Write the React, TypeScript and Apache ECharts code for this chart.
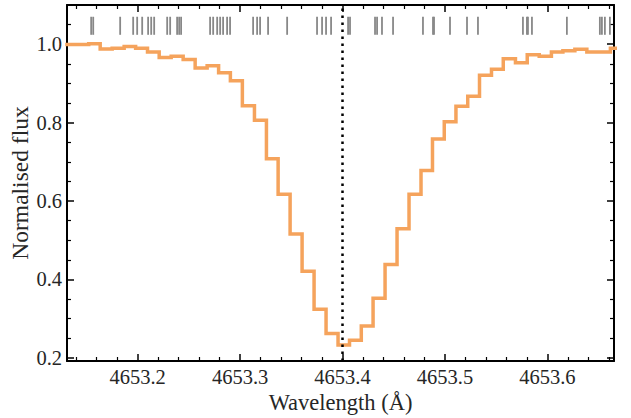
import React, { useEffect, useRef } from "react";
import * as echarts from "echarts";

// Bin left edges (Å); the last entry is the right edge of the last bin
const binEdges = [
  4653.1293, 4653.1407, 4653.1522, 4653.1634, 4653.1751, 4653.1868, 4653.198, 4653.2096,
  4653.221, 4653.2327, 4653.2444, 4653.2561, 4653.2678, 4653.279, 4653.2905, 4653.3022,
  4653.314, 4653.3257, 4653.3371, 4653.3488, 4653.3605, 4653.3722, 4653.3839, 4653.3956,
  4653.4068, 4653.4183, 4653.4298, 4653.4415, 4653.4532, 4653.4649, 4653.4766, 4653.4878,
  4653.4993, 4653.5107, 4653.5222, 4653.5337, 4653.5454, 4653.5569, 4653.5688, 4653.5803,
  4653.592, 4653.6039, 4653.6151, 4653.6268, 4653.6385, 4653.65, 4653.6615, 4653.6727,
];

// Normalised flux of each bin
const binFlux = [
  0.999, 0.999, 1.001, 0.988, 0.99, 0.994, 0.99, 0.98,
  0.966, 0.969, 0.961, 0.939, 0.945, 0.927, 0.907, 0.843,
  0.806, 0.708, 0.617, 0.516, 0.421, 0.324, 0.262, 0.233,
  0.245, 0.281, 0.352, 0.438, 0.529, 0.617, 0.678, 0.758,
  0.802, 0.842, 0.867, 0.921, 0.936, 0.963, 0.953, 0.973,
  0.969, 0.98, 0.983, 0.987, 0.98, 0.98, 0.99,
];

// Line-list wavelengths shown as gray marks at the top
const lineMarks = [
  4653.1546, 4653.1566, 4653.1829, 4653.1956, 4653.1995, 4653.2044, 4653.2102, 4653.2132,
  4653.2161, 4653.2288, 4653.2317, 4653.2385, 4653.2405, 4653.2424, 4653.2707, 4653.2737,
  4653.2776, 4653.2805, 4653.2834, 4653.2873, 4653.2902, 4653.3127, 4653.3166, 4653.3195,
  4653.3273, 4653.3459, 4653.3751, 4653.38, 4653.3839, 4653.3888, 4653.4054, 4653.4073,
  4653.4317, 4653.4337, 4653.4385, 4653.4493, 4653.4785, 4653.4883, 4653.4893, 4653.5049,
  4653.5215, 4653.5322, 4653.5761, 4653.58, 4653.581, 4653.5849, 4653.619, 4653.6512,
  4653.6532, 4653.6561, 4653.661,
];
const markBottom = 1.024;
const markTop = 1.07;

const restWavelength = 4653.4;
const xMin = 4653.131;
const xMax = 4653.665;
const yMin = 0.192;
const yMax = 1.1;

const FONT = "Liberation Serif";
const TEXT = "#262626";

export default function App() {
  const ref = useRef<HTMLDivElement>(null);
  useEffect(() => {
    if (!ref.current) return;
    const chart = echarts.init(ref.current, null, { renderer: "svg" });

    const stepData = binEdges.map((x, i) => [x, binFlux[Math.min(i, binFlux.length - 1)]]);
    const markData = lineMarks.map((x) => [x, markBottom]);

    const tickCommon = {
      axisLine: { show: true, onZero: false, lineStyle: { color: "#000", width: 2 } },
      axisTick: { show: true, inside: true, length: 7, lineStyle: { color: "#000", width: 1.5 } },
      minorTick: { show: true, length: 4, lineStyle: { color: "#000", width: 1.2 } },
      splitLine: { show: false },
    };

    const tickLabel = {
      show: true,
      margin: 5,
      showMinLabel: false,
      showMaxLabel: false,
      color: TEXT,
      fontFamily: FONT,
      fontSize: 20.5,
      formatter: (v: number) => v.toFixed(1),
    };

    chart.setOption({
      animation: false,
      backgroundColor: "#fff",
      grid: { left: 67, right: 17, top: 5, bottom: 57, containLabel: false, outerBoundsMode: "none" },
      xAxis: [
        {
          type: "value",
          min: xMin,
          max: xMax,
          splitNumber: 5,
          position: "bottom",
          ...tickCommon,
          minorTick: { ...tickCommon.minorTick, splitNumber: 5 },
          axisLabel: tickLabel,
          name: "Wavelength (Å)",
          nameLocation: "middle",
          nameGap: 30,
          nameMoveOverlap: false,
          nameTextStyle: { color: TEXT, fontFamily: FONT, fontSize: 22.5 },
        },
        {
          type: "value",
          min: xMin,
          max: xMax,
          splitNumber: 5,
          position: "top",
          ...tickCommon,
          minorTick: { ...tickCommon.minorTick, splitNumber: 5 },
          axisLabel: { show: false },
        },
      ],
      yAxis: [
        {
          type: "value",
          min: yMin,
          max: yMax,
          splitNumber: 5,
          position: "left",
          ...tickCommon,
          minorTick: { ...tickCommon.minorTick, splitNumber: 4 },
          axisLabel: tickLabel,
          name: "Normalised flux",
          nameLocation: "middle",
          nameGap: 35,
          nameMoveOverlap: false,
          nameTextStyle: { color: TEXT, fontFamily: FONT, fontSize: 23.5 },
        },
        {
          type: "value",
          min: yMin,
          max: yMax,
          splitNumber: 5,
          position: "right",
          ...tickCommon,
          minorTick: { ...tickCommon.minorTick, splitNumber: 4 },
          axisLabel: { show: false },
        },
      ],
      series: [
        {
          type: "custom",
          xAxisIndex: 0,
          yAxisIndex: 0,
          encode: { x: 0, y: 1 },
          data: markData,
          clip: true,
          renderItem: (params: any, api: any) => {
            const x = api.value(0);
            const p1 = api.coord([x, markBottom]);
            const p2 = api.coord([x, markTop]);
            return {
              type: "line",
              shape: { x1: p1[0], y1: p1[1], x2: p2[0], y2: p2[1] },
              style: { stroke: "#888888", lineWidth: 1.8 },
            };
          },
          silent: true,
        },
        {
          type: "line",
          xAxisIndex: 0,
          yAxisIndex: 0,
          data: stepData,
          step: "end",
          symbol: "none",
          clip: true,
          lineStyle: { color: "#f5a35c", width: 3.5, join: "miter" },
          silent: true,
          markLine: {
            silent: true,
            symbol: ["none", "none"],
            label: { show: false },
            lineStyle: { color: "#000", type: [2.5, 4.5], width: 2.5 },
            data: [{ xAxis: restWavelength }],
          },
        },
      ],
    });

    return () => chart.dispose();
  }, []);

  return (
    <div
      ref={ref}
      style={{ position: "absolute", left: 0, top: 0, width: 631, height: 418 }}
    />
  );
}
